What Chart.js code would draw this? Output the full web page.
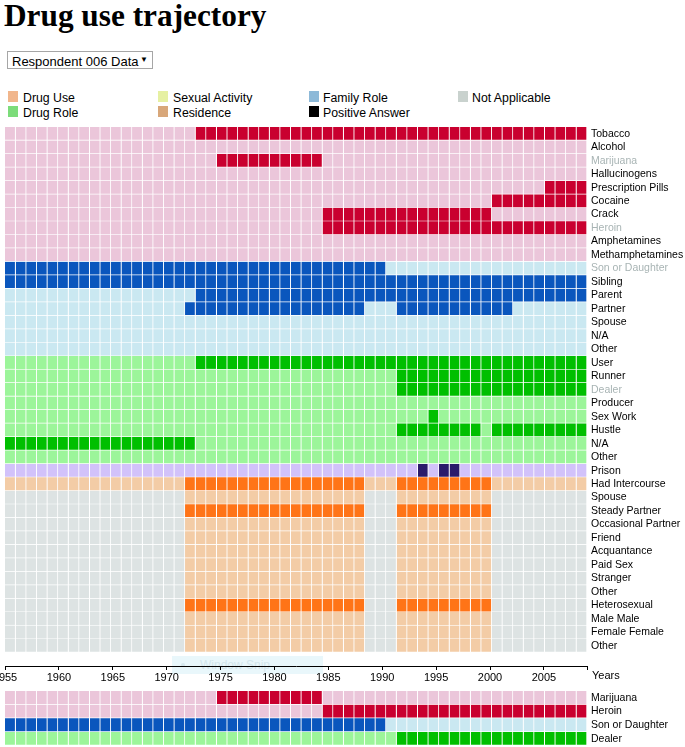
<!DOCTYPE html>
<html>
<head>
<meta charset="utf-8">
<script src="https://cdn.jsdelivr.net/npm/chart.js@4.4.0/dist/chart.umd.min.js"></script>
<style>
  html, body { margin: 0; padding: 0; background: #fff; }
  body { width: 685px; height: 747px; position: relative; overflow: hidden; font-family: "Liberation Sans", Arial, sans-serif; color: #000; }
  h1 { position: absolute; left: 4px; top: 0; margin: 0; font: bold 31.3px/32px "Liberation Serif", "Times New Roman", serif; white-space: nowrap; }
  .sel { position: absolute; left: 7px; top: 51px; width: 146px; height: 18px; box-sizing: border-box; border: 1px solid #a6a6a6; background: #fff; }
  .sel select { appearance: none; -webkit-appearance: none; border: none; outline: none; background: transparent; font: 13px "Liberation Sans", Arial, sans-serif; color: #000; padding: 0 0 0 4px; margin: 0; height: 16px; line-height: 16px; width: 144px; }
  .sel .arr { position: absolute; left: 132px; top: 1px; font-size: 8px; line-height: 14px; }
  .lg { position: absolute; font: 12.3px/14px "Liberation Sans", Arial, sans-serif; white-space: nowrap; }
  .sw { position: absolute; width: 10px; height: 11px; }
  canvas { position: absolute; left: 0; }
  #snip { position: absolute; left: 172px; top: 656px; width: 151px; height: 18px; background: #e9f7fb; }
  #snip span { position: absolute; left: 28px; top: 2px; font: 12px/14px "Liberation Sans", Arial, sans-serif; color: #d3e6ec; }
  #snip i { position: absolute; left: 9px; top: 7px; width: 4px; height: 4px; border-radius: 2px; background: #d6e8ee; }
  #years { position: absolute; left: 592px; top: 668px; font: 11px/14px "Liberation Sans", Arial, sans-serif; }
</style>
</head>
<body>
<h1>Drug use trajectory</h1>
<div class="sel"><select><option>Respondent 006 Data</option></select><span class="arr">&#9660;</span></div>

<div class="sw" style="left:8px;top:91px;background:#f1b68c"></div><div class="lg" style="left:23px;top:91px">Drug Use</div>
<div class="sw" style="left:8px;top:106px;background:#7cdc7a"></div><div class="lg" style="left:23px;top:106px">Drug Role</div>
<div class="sw" style="left:158px;top:91px;background:#e6f0a2"></div><div class="lg" style="left:173px;top:91px">Sexual Activity</div>
<div class="sw" style="left:158px;top:106px;background:#d8a77a"></div><div class="lg" style="left:173px;top:106px">Residence</div>
<div class="sw" style="left:309px;top:91px;background:#8db9d8"></div><div class="lg" style="left:323px;top:91px">Family Role</div>
<div class="sw" style="left:309px;top:106px;background:#000"></div><div class="lg" style="left:323px;top:106px">Positive Answer</div>
<div class="sw" style="left:458px;top:91px;background:#c9d2ce"></div><div class="lg" style="left:472px;top:91px">Not Applicable</div>

<div id="snip"><i></i><span>Window Snip</span></div>
<canvas id="main" width="685" height="570" style="top:120px"></canvas>
<div id="years">Years</div>
<canvas id="focus" width="685" height="59" style="top:688px"></canvas>

<script>
// ---------------- DATA ----------------
const YEARS = [1955,1956,1957,1958,1959,1960,1961,1962,1963,1964,1965,1966,1967,1968,1969,
  1970,1971,1972,1973,1974,1975,1976,1977,1978,1979,1980,1981,1982,1983,1984,1985,1986,1987,
  1988,1989,1990,1991,1992,1993,1994,1995,1996,1997,1998,1999,2000,2001,2002,2003,2004,2005,
  2006,2007,2008,2009];
const X_TICK_YEARS = [1955,1960,1965,1970,1975,1980,1985,1990,1995,2000,2005];
const AXIS_END_YEAR = 2009;

// rows and the year spans (inclusive) with a positive answer
const drugUseRows = ['Tobacco','Alcohol','Marijuana','Hallucinogens','Prescription Pills','Cocaine','Crack','Heroin','Amphetamines','Methamphetamines'];
const drugUseYears = [[[1973,2009]], [], [[1975,1984]], [], [[2006,2009]], [[2001,2009]], [[1985,2000]], [[1985,2009]], [], []];

const familyRows = ['Son or Daughter','Sibling','Parent','Partner','Spouse','N/A','Other'];
const familyYears = [[[1955,1990]], [[1955,2009]], [[1973,2009]], [[1972,1988],[1992,2002]], [], [], []];

const roleRows = ['User','Runner','Dealer','Producer','Sex Work','Hustle','N/A','Other'];
const roleYears = [[[1973,2009]], [[1992,2009]], [[1992,2009]], [], [[1995,1995]], [[1992,1999],[2001,2009]], [[1955,1972]], []];

const prisonRows = ['Prison'];
const prisonYears = [[[1994,1994],[1996,1997]]];

const sexRows = ['Had Intercourse','Spouse','Steady Partner','Occasional Partner','Friend','Acquantance','Paid Sex','Stranger','Other','Heterosexual','Male Male','Female Female','Other'];
const sexYears = [[[1972,1988],[1992,2000]], [], [[1972,1988],[1992,2000]], [], [], [], [], [], [], [[1972,1988],[1992,2000]], [], [], []];
const sexApplicableYears = [[1972,1988],[1992,2000]];
const sexAlwaysApplicable = ['Had Intercourse'];

const focusRows = ['Marijuana','Heroin','Son or Daughter','Dealer'];

// ---------------- STYLE ----------------
const COLORS = {
  drug:   ['#ebc6da', '#c9002f'],
  family: ['#cae8f1', '#0a56bd'],
  role:   ['#9cf59a', '#00bf00'],
  prison: ['#d2c2fa', '#2b1a6b'],
  sex:    ['#f3cca6', '#ff7417'],
  na: '#dde3e3'
};
const FONT = '"Liberation Sans", Arial, sans-serif';

const inSpans = (spans, y) => spans.some(([a, b]) => y >= a && y <= b);

const rows = [];
function addGroup(labels, spans, group) {
  labels.forEach((l, i) => rows.push({ label: l, spans: spans[i], group,
    always: group !== 'sex' || sexAlwaysApplicable.includes(l) }));
}
addGroup(drugUseRows, drugUseYears, 'drug');
addGroup(familyRows, familyYears, 'family');
addGroup(roleRows, roleYears, 'role');
addGroup(prisonRows, prisonYears, 'prison');
addGroup(sexRows, sexYears, 'sex');

function cellColor(r, year) {
  if (!r.group) return 'rgba(0,0,0,0)';
  if (inSpans(r.spans, year)) return COLORS[r.group][1];
  if (!r.always && !inSpans(sexApplicableYears, year)) return COLORS.na;
  return COLORS[r.group][0];
}

function makeDatasets(rs) {
  return YEARS.map(year => ({
    label: String(year),
    data: rs.map(r => r.group ? [year, year + 1] : null),
    backgroundColor: rs.map(r => cellColor(r, year)),
    borderColor: '#ffffff',
    borderWidth: { left: 0, top: 0, right: 1, bottom: 1 },
    borderSkipped: false,
    categoryPercentage: 1,
    barPercentage: 1,
    grouped: false
  }));
}

function makeChart(canvas, rs, opts) {
  return new Chart(canvas, {
    type: 'bar',
    data: { labels: rs.map(r => r.label), datasets: makeDatasets(rs) },
    options: {
      indexAxis: 'y',
      responsive: false,
      animation: false,
      events: [],
      layout: { padding: opts.padding },
      plugins: { legend: { display: false }, tooltip: { enabled: false } },
      scales: Object.assign({
        x: { type: 'linear', min: YEARS[0], max: YEARS[YEARS.length - 1] + 1, display: false },
        y: {
          type: 'category', position: 'right', offset: true,
          grid: { display: false, drawTicks: false },
          border: { display: false },
          ticks: {
            padding: 4, autoSkip: false,
            font: { family: FONT, size: 10.5 },
            color: ctx => (opts.highlight && focusRows.includes(rs[ctx.index].label)) ? '#a8b4b4' : '#000'
          },
          afterFit: s => { s.width = 98; s.paddingTop = 0; s.paddingBottom = 0; }
        }
      }, opts.extraScales || {})
    }
  });
}

const mainRows = rows.concat([{ label: '', spans: [], group: null }]);
makeChart(document.getElementById('main'), mainRows, {
  padding: { left: 5, top: 7, right: 0, bottom: 0 },
  highlight: true,
  extraScales: {
    xAxis: {
      type: 'linear', position: 'bottom', min: YEARS[0], max: AXIS_END_YEAR,
      grid: { drawOnChartArea: false, drawTicks: true, tickLength: 4, tickColor: '#000', tickWidth: 1 },
      border: { display: true, color: '#000', width: 1 },
      afterBuildTicks: s => { s.ticks = X_TICK_YEARS.concat([AXIS_END_YEAR]).map(v => ({ value: v })); },
      ticks: {
        autoSkip: false, maxRotation: 0, minRotation: 0, padding: 1, color: '#000',
        font: { family: FONT, size: 11 },
        callback: v => X_TICK_YEARS.includes(v) ? String(v) : ''
      },
      afterFit: s => { s.height = 24; s.paddingLeft = 0; s.paddingRight = 0; }
    }
  }
});

const bottomRows = focusRows.map(l => rows.find(r => r.label === l));
makeChart(document.getElementById('focus'), bottomRows, {
  padding: { left: 5, top: 3, right: 0, bottom: 1.5 },
  highlight: false
});
</script>
</body>
</html>
